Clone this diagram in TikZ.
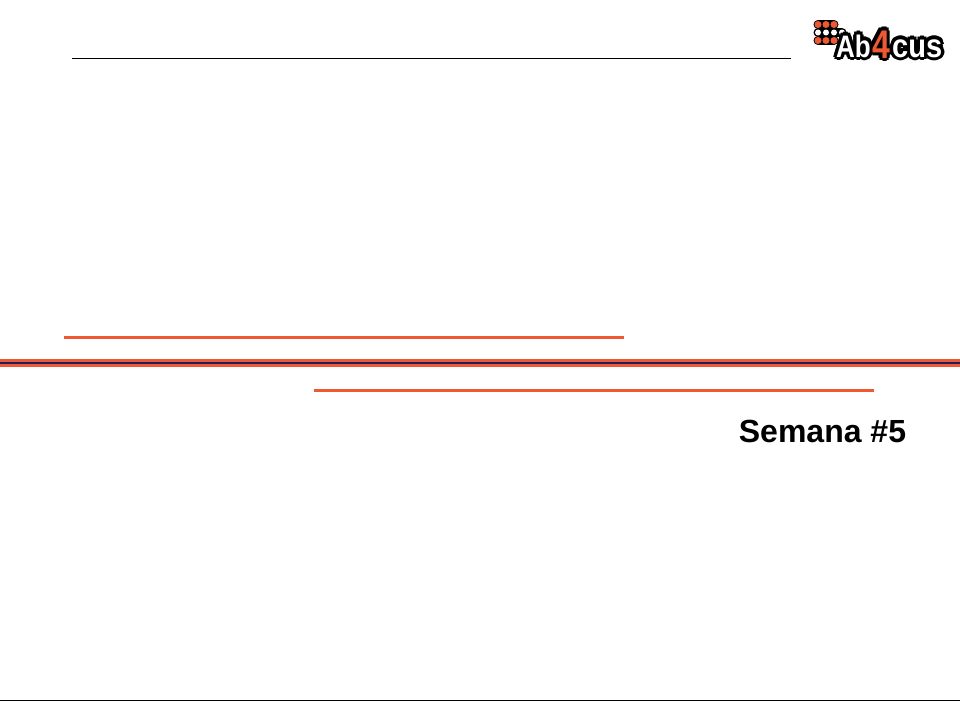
\documentclass[tikz,border=0pt]{standalone}
\usepackage{fontspec}
\setmainfont{Liberation Sans}
\usetikzlibrary{positioning}

\begin{document}
\begin{tikzpicture}[x=1pt,y=-1pt]

\definecolor{accentred}{RGB}{238,88,50}
\definecolor{bandblue}{RGB}{30,30,90}
\tikzset{rule/.style={draw=black,line width=1pt},
accent/.style={draw=accentred,line width=3pt},
band/.style={draw=accentred,line width=8pt},
core/.style={draw=bandblue,line width=2.5pt},
dotrow/.style={draw=black,line width=9pt,line cap=round},
dotred/.style={fill=accentred,draw=none,shape=circle,inner sep=0pt,minimum size=7pt},
dotwhite/.style={fill=white,draw=none,shape=circle,inner sep=0pt,minimum size=6pt},
logoab/.style={font=\bfseries\fontsize{31}{31}\selectfont,inner sep=0pt,anchor=base west,xscale=.84},
logofig/.style={font=\bfseries\fontsize{40}{40}\selectfont,inner sep=0pt,anchor=base west,xscale=.8},
logocus/.style={font=\bfseries\fontsize{33}{33}\selectfont,inner sep=0pt,anchor=base west,xscale=.88}}

\useasboundingbox (0,0) rectangle (960,720);

% Header and footer rules
\coordinate (headl) at (72,58);
\coordinate (headr) at (791,58);
\coordinate (footl) at (0,700.5);
\coordinate (footr) at (960,700.5);
\draw [rule] (headl) -- (headr);
\draw [rule] (footl) -- (footr);

% Title band
\coordinate (bandl) at (0,363);
\coordinate (bandr) at (960,363);
\coordinate (upl) at (64,337.5);
\coordinate (upr) at (624,337.5);
\coordinate (lowl) at (314,390);
\coordinate (lowr) at (874,390);
\draw [accent] (upl) -- (upr);
\draw [band] (bandl) -- (bandr);
\draw [core] (bandl) -- (bandr);
\draw [accent] (lowl) -- (lowr);

% Week label
\node (week) at (822.5,431) [font=\bfseries\fontsize{32}{32}\selectfont,inner sep=0pt] {Semana \#5};

% Logo dots
\draw [dotrow] (818,24.5) -- (834,24.5);
\draw [dotrow] (818,32.5) -- (842,32.5);
\draw [dotrow] (818,40.5) -- (834,40.5);
\foreach \cx/\cn in {818/1,826/2,834/3}{
\node (dota\cn) at (\cx,24.5) [dotred] {};
\node (dotb\cn) at (\cx,32.5) [dotwhite] {};
\node (dotc\cn) at (\cx,40.5) [dotred] {};
}
\node (dotb4) at (842,32.5) [dotwhite] {};

% Logo lettering
\foreach \ox/\oy in {-3.5/0,3.5/0,0/-3.5,0/3.5,-2.5/-2.5,2.5/-2.5,-2.5/2.5,2.5/2.5}{
\node at (836+\ox,57+\oy) [logoab,text=black] {Ab};
\node at (872+\ox,58+\oy) [logofig,text=black] {4};
\node at (892+\ox,57+\oy) [logocus,text=black] {cus};
}
\node (logoA) at (836,57) [logoab,text=white] {Ab};
\node (logocs) at (892,57) [logocus,text=white] {cus};
\node (logofour) at (872,58) [logofig,text=accentred] {4};

\end{tikzpicture}
\end{document}
